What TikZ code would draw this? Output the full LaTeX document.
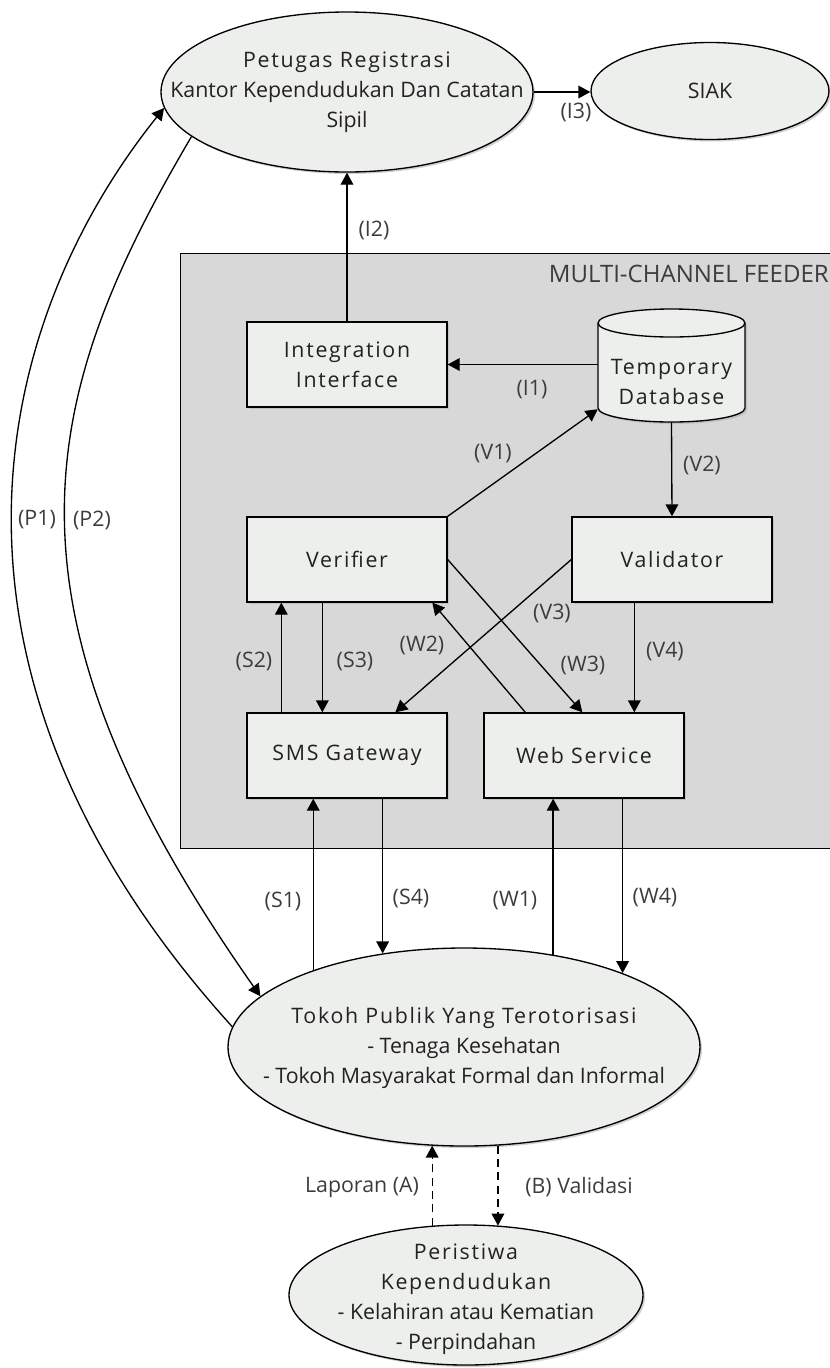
\documentclass[tikz,border=0pt]{standalone}
\usepackage{fontspec}
\setmainfont{Open Sans}
\newfontfamily\spacedfont[LetterSpace=8]{Open Sans}
\usetikzlibrary{arrows.meta,shapes.geometric,shadows,calc}
\definecolor{shapefill}{RGB}{237,239,236}
\definecolor{panelfill}{RGB}{216,216,216}
\definecolor{txt}{RGB}{34,34,34}
\definecolor{labtxt}{RGB}{60,60,60}
\tikzset{
 shp/.style={draw=black, line width=1pt, fill=shapefill, drop shadow={shadow xshift=1.5pt, shadow yshift=-1.5pt, fill=black!30, opacity=0.6}},
 boxn/.style={shp, rectangle, minimum width=150pt, minimum height=63.75pt, inner sep=0pt, align=center, text=txt, font=\spacedfont\fontsize{16}{22.5}\selectfont},
 ell/.style={shp, ellipse, inner sep=0pt},
 ttl/.style={align=center, text=txt, inner sep=0pt, font=\fontsize{16}{22.5}\selectfont},
 lab/.style={text=labtxt, inner sep=0pt, font=\fontsize{16}{19}\selectfont},
 conn/.style={line width=1pt, -{Triangle[length=9pt,width=9.5pt]}},
 dconn/.style={conn, dash pattern=on 6pt off 4pt},
}
\begin{document}
\begin{tikzpicture}[x=0.75pt,y=-0.75pt]
\useasboundingbox (0,0) rectangle (830,1368);
\clip (0,0) rectangle (830,1368);

% container
\node[draw=black, line width=1pt, fill=panelfill, anchor=north west, minimum width=495pt, minimum height=446.25pt, inner sep=0pt] (mcf) at (180,253) {};
\node[lab, anchor=east, font=\fontsize{18}{21}\selectfont] (mcftxt) at (829,274) {MULTI-CHANNEL FEEDER};

% ellipses
\node[ell, minimum width=279pt, minimum height=120pt] (pet) at (347,92) {};
\node[ttl] (pettxt) at (347,92) {\spacedfont Petugas Registrasi\\\normalfont Kantor Kependudukan Dan Catatan\\Sipil};
\node[ell, minimum width=178.5pt, minimum height=72.75pt] (siak) at (710,91) {};
\node[ttl] (siaktxt) at (710,91) {SIAK};
\node[ell, minimum width=354pt, minimum height=148.5pt] (tok) at (464,1047) {};
\node[ttl] (toktxt) at (464,1048) {\spacedfont Tokoh Publik Yang Terotorisasi\\\normalfont - Tenaga Kesehatan\\- Tokoh Masyarakat Formal dan Informal};
\node[ell, minimum width=265.5pt, minimum height=105pt] (pe) at (466,1295) {};
\node[ttl] (petxt) at (466,1299) {\spacedfont Peristiwa\\\spacedfont Kependudukan\\\normalfont - Kelahiran atau Kematian\\- Perpindahan};

% boxes
\node[boxn] (ii) at (347,364.5) {Integration\\Interface};
\node[boxn] (ver) at (347,559.5) {Verifier};
\node[boxn] (val) at (672,559.5) {Validator};
\node[boxn] (sms) at (347,755.5) {SMS Gateway};
\node[boxn] (web) at (584,755.5) {Web Service};

% database cylinder
\node[inner sep=0pt, minimum width=110.25pt, minimum height=84.75pt] (db) at (671.5,365.5) {};
\path[shp] (598,323) -- (598,408) arc[start angle=180, end angle=360, x radius=55.125pt, y radius=10.5pt] -- (745,323) arc[start angle=0, end angle=180, x radius=55.125pt, y radius=10.5pt] -- cycle;
\draw[line width=1pt] (745,323) arc[start angle=0, end angle=-180, x radius=55.125pt, y radius=10.5pt];
\node[ttl, font=\spacedfont\fontsize{16}{22.5}\selectfont] (dbtxt) at (671.5,382) {Temporary\\Database};

% connectors
\draw[conn] (db.west |- ii.east) -- (ii.east);
\draw[conn] (ii.north) -- (pet.south);
\draw[conn] (pet.east) -- (pet.east -| siak.west);
\draw[conn] (ver.north east) -- ($(db.south west)+(0,-13)$);
\draw[conn] (db.south) -- (val.north);
\draw[conn] ($(sms.north west)+(35,0)$) -- ($(ver.south west)+(35,0)$);
\draw[conn] ($(ver.south west)+(76,0)$) -- ($(sms.north west)+(76,0)$);
\draw[conn] (val.west) -- ($(sms.north west)+(149,0)$);
\draw[conn] ($(web.north west)+(42,0)$) -- ($(ver.south west)+(186,0)$);
\draw[conn] (ver.east) -- ($(web.north west)+(99,0)$);
\draw[conn] ($(val.south west)+(63,0)$) -- ($(web.north west)+(151,0)$);
\draw[conn] (tok.153.25) -- (tok.153.25 |- sms.south);
\draw[conn] (tok.131.84 |- sms.south) -- (tok.131.84);
\draw[conn] (tok.46.6) -- (tok.46.6 |- web.south);
\draw[conn] (tok.25.73 |- web.south) -- (tok.25.73);
\draw[conn] (tok.175) .. controls (-90.7,670.6) and (-9,324) .. (pet.185);
\draw[conn] (pet.196) .. controls (35.7,400.6) and (-12.4,608.1) .. (tok.166.4);
\draw[dconn] (pe.116.33) -- (pe.116.33 |- tok.251.93);
\draw[dconn] (tok.289.67) -- (tok.289.67 |- pe.64.37);

% labels
\node[lab] (lI3) at (576,112) {(I3)};
\node[lab] (lI2) at (374,230) {(I2)};
\node[lab] (lI1) at (532,390) {(I1)};
\node[lab] (lV1) at (493,454) {(V1)};
\node[lab] (lV2) at (702,465) {(V2)};
\node[lab] (lS2) at (254,661) {(S2)};
\node[lab] (lS3) at (355,661) {(S3)};
\node[lab] (lW2) at (422,645) {(W2)};
\node[lab] (lV3) at (552,613) {(V3)};
\node[lab] (lW3) at (583,665) {(W3)};
\node[lab] (lV4) at (665,652) {(V4)};
\node[lab] (lS1) at (283,901) {(S1)};
\node[lab] (lS4) at (411,898) {(S4)};
\node[lab] (lW1) at (515,901) {(W1)};
\node[lab] (lW4) at (655,898) {(W4)};
\node[lab] (lP1) at (37,520) {(P1)};
\node[lab] (lP2) at (92,520) {(P2)};
\node[lab] (lA) at (362,1187) {Laporan (A)};
\node[lab] (lB) at (579,1187) {(B) Validasi};
\end{tikzpicture}
\end{document}
